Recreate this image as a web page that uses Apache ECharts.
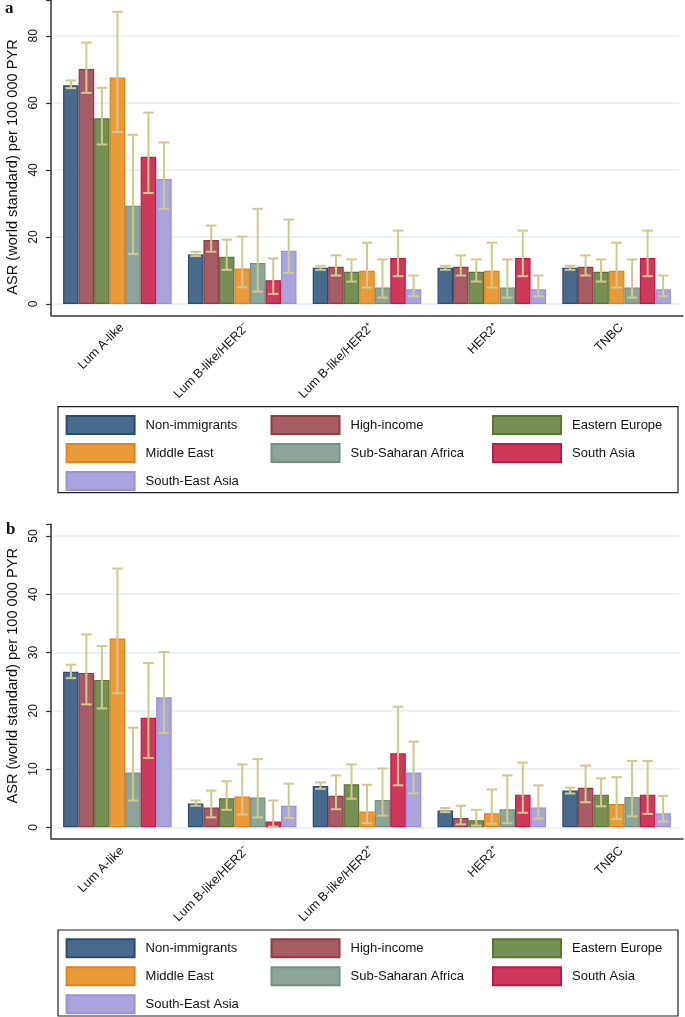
<!DOCTYPE html>
<html>
<head>
<meta charset="utf-8">
<script src="https://cdn.jsdelivr.net/npm/echarts@6/dist/echarts.min.js"></script>
<style>
html,body{margin:0;padding:0;background:#fff;}
#chart{width:685px;height:1017px;}
</style>
</head>
<body>
<div id="chart"></div>
<script>
// ---------- data ----------
const categories = ['Lum A-like', 'Lum B-like/HER2\u207B', 'Lum B-like/HER2\u207A', 'HER2\u207A', 'TNBC'];
const groups = ['Non-immigrants', 'High-income', 'Eastern Europe', 'Middle East', 'Sub-Saharan Africa', 'South Asia', 'South-East Asia'];

// panel a: ASR per group (rows) x subtype (columns)
const aAsr = [
  [65.3, 14.8, 10.8, 10.8, 10.8],
  [70.1, 19.1, 11.1, 11.1, 11.1],
  [55.4, 14.1, 9.6, 9.6, 9.6],
  [67.6, 10.6, 9.9, 9.9, 9.9],
  [29.3, 12.2, 4.9, 4.9, 4.9],
  [43.9, 7.1, 13.7, 13.7, 13.7],
  [37.3, 15.9, 4.4, 4.4, 4.4]
];
const aLow = [
  [64.4, 14.3, 10.2, 10.2, 10.2],
  [63.0, 15.6, 8.5, 8.5, 8.5],
  [47.6, 10.2, 6.7, 6.7, 6.7],
  [51.3, 5.0, 4.9, 4.9, 4.9],
  [14.9, 3.7, 1.9, 1.9, 1.9],
  [33.1, 3.0, 8.3, 8.3, 8.3],
  [28.4, 9.3, 2.3, 2.3, 2.3]
];
const aHigh = [
  [66.7, 15.6, 11.4, 11.4, 11.4],
  [78.0, 23.4, 14.5, 14.5, 14.5],
  [64.5, 19.2, 13.3, 13.3, 13.3],
  [87.2, 20.1, 18.3, 18.3, 18.3],
  [50.5, 28.4, 13.3, 13.3, 13.3],
  [57.1, 13.6, 21.9, 21.9, 21.9],
  [48.2, 25.2, 8.5, 8.5, 8.5]
];

// panel b
const bAsr = [
  [26.7, 4.1, 7.1, 2.9, 6.3],
  [26.5, 3.4, 5.4, 1.6, 6.8],
  [25.3, 5.0, 7.4, 1.2, 5.6],
  [32.4, 5.3, 2.7, 2.4, 4.0],
  [9.4, 5.1, 4.7, 3.1, 5.2],
  [18.8, 1.0, 12.7, 5.6, 5.6],
  [22.3, 3.7, 9.4, 3.4, 2.4]
];
const bLow = [
  [25.6, 3.7, 6.6, 2.6, 5.8],
  [21.1, 1.7, 3.1, 0.5, 4.3],
  [20.4, 3.0, 4.9, 0.3, 3.6],
  [23.0, 2.2, 0.7, 0.6, 1.4],
  [4.6, 1.7, 2.0, 0.7, 1.9],
  [11.9, 0.1, 7.2, 2.5, 2.3],
  [16.2, 1.6, 5.8, 1.5, 1.0]
];
const bHigh = [
  [27.9, 4.6, 7.7, 3.3, 6.8],
  [33.1, 6.3, 8.9, 3.7, 10.6],
  [31.1, 7.9, 10.8, 3.0, 8.4],
  [44.4, 10.8, 7.3, 6.5, 8.6],
  [17.1, 11.7, 10.1, 8.9, 11.4],
  [28.2, 4.6, 20.7, 11.1, 11.4],
  [30.1, 7.5, 14.7, 7.2, 5.4]
];

// ---------- styles ----------
const fills   = ['#486a8c', '#a65c62', '#768f55', '#eb9a38', '#8ba59a', '#cf375b', '#a9a4dc'];
const borders = ['#2c4c70', '#8e3c46', '#5a7432', '#e2821e', '#74917f', '#bf184b', '#9a91d6'];
const errColor = '#d1c88d';
const axisColor = '#333';
const font = 'Liberation Sans, Arial, sans-serif';
const GAP = 0.13;

const chart = echarts.init(document.getElementById('chart'), null, {renderer: 'canvas'});

function errRender(params, api) {
  const cat = api.value(0), s = api.value(1), lo = api.value(2), hi = api.value(3);
  const band = api.size([1, 0])[0];
  const gw = band * (1 - GAP);
  const bw = gw / groups.length;
  const x = api.coord([cat, 0])[0] - gw / 2 + (s + 0.5) * bw;
  const yLo = api.coord([cat, lo])[1];
  const yHi = api.coord([cat, hi])[1];
  const cap = bw * 0.34;
  const st = {stroke: errColor, lineWidth: 2};
  return {
    type: 'group',
    children: [
      {type: 'line', shape: {x1: x, y1: yLo, x2: x, y2: yHi}, style: st},
      {type: 'line', shape: {x1: x - cap, y1: yHi, x2: x + cap, y2: yHi}, style: st},
      {type: 'line', shape: {x1: x - cap, y1: yLo, x2: x + cap, y2: yLo}, style: st}
    ]
  };
}

function errData(low, high) {
  const d = [];
  for (let s = 0; s < groups.length; s++) {
    for (let c = 0; c < categories.length; c++) d.push([c, s, low[s][c], high[s][c]]);
  }
  return d;
}

function xAxisCfg(gi) {
  return {
    type: 'category', gridIndex: gi, data: categories, offset: 11,
    axisLine: {show: false},
    axisTick: {show: false},
    axisLabel: {rotate: 45, interval: 0, margin: 6, fontSize: 12.5, color: '#111', fontFamily: font,
      verticalAlign: 'top'},
    splitLine: {show: false}
  };
}
function yAxisCfg(gi, max, interval, namePad) {
  return {
    type: 'value', gridIndex: gi, min: 0, max: max, interval: interval, offset: 4,
    name: 'ASR (world standard) per 100 000 PYR', nameLocation: 'middle', nameGap: 29.5,
    nameTextStyle: {fontSize: 14.6, color: '#111', fontFamily: font, padding: namePad},
    axisLine: {show: false},
    axisTick: {show: true, length: 5, lineStyle: {color: axisColor, width: 1.2}},
    axisLabel: {rotate: 90, margin: 11, fontSize: 12, color: '#111', fontFamily: font,
      formatter: v => (Math.abs(v / interval - Math.round(v / interval)) < 1e-6 ? String(v) : '')},
    splitLine: {show: true, showMaxLine: false, lineStyle: {color: '#e4ecf1', width: 1.5}}
  };
}
// frame axes: plain axis lines forming the L-shaped plot border
function frameX(gi) {
  return {type: 'value', gridIndex: gi, min: 0, max: 1, axisLine: {show: true, onZero: false, lineStyle: {color: axisColor, width: 1.5}},
    axisTick: {show: false}, axisLabel: {show: false}, splitLine: {show: false}};
}
function frameY(gi) {
  return {type: 'value', gridIndex: gi, min: 0, max: 1, axisLine: {show: true, onZero: false, lineStyle: {color: axisColor, width: 1.5}},
    axisTick: {show: false}, axisLabel: {show: false}, splitLine: {show: false}};
}

const series = [];
[[aAsr, 0], [bAsr, 1]].forEach(([vals, gi]) => {
  groups.forEach((g, s) => {
    series.push({
      type: 'bar', name: g, xAxisIndex: gi, yAxisIndex: gi,
      data: vals[s], barGap: '0%', barCategoryGap: (GAP * 100) + '%',
      itemStyle: {color: fills[s], borderColor: borders[s], borderWidth: 1.2},
      emphasis: {disabled: true}
    });
  });
});
series.push({type: 'custom', name: 'ci_a', xAxisIndex: 0, yAxisIndex: 0, renderItem: errRender,
  data: errData(aLow, aHigh), encode: {x: 0, y: [2, 3]}, z: 5, silent: true});
series.push({type: 'custom', name: 'ci_b', xAxisIndex: 1, yAxisIndex: 1, renderItem: errRender,
  data: errData(bLow, bHigh), encode: {x: 0, y: [2, 3]}, z: 5, silent: true});
series.push({type: 'line', name: 'frame_a', xAxisIndex: 2, yAxisIndex: 2, data: [], silent: true});
series.push({type: 'line', name: 'frame_b', xAxisIndex: 3, yAxisIndex: 3, data: [], silent: true});

const legendCols = [
  ['Non-immigrants', 'Middle East', 'South-East Asia'],
  ['High-income', 'Sub-Saharan Africa'],
  ['Eastern Europe', 'South Asia']
];
const legendLeft = [65.6, 270.5, 492];
const legendTops = [415, 938.3];
const legends = [];
legendTops.forEach(t => {
  legendCols.forEach((col, i) => {
    legends.push({
      orient: 'vertical', left: legendLeft[i], top: t, data: col, icon: 'rect',
      itemWidth: 68, itemHeight: 18, itemGap: 8, padding: 0, selectedMode: false,
      textStyle: {fontSize: 13, color: '#111', fontFamily: font, padding: [0, 0, 0, 6]}
    });
  });
});

const gridBase = {outerBoundsMode: 'none', containLabel: false};
chart.setOption({
  animation: false,
  backgroundColor: '#fff',
  title: [
    {text: 'a', left: 5, top: 0, padding: 0, textStyle: {fontFamily: 'Liberation Serif, serif', fontWeight: 'bold', fontSize: 17, color: '#111'}},
    {text: 'b', left: 6, top: 521, padding: 0, textStyle: {fontFamily: 'Liberation Serif, serif', fontWeight: 'bold', fontSize: 17, color: '#111'}}
  ],
  grid: [
    Object.assign({left: 55, width: 624, top: 0, height: 304}, gridBase),
    Object.assign({left: 55, width: 624, top: 524.3, height: 303}, gridBase),
    Object.assign({left: 51, width: 632, top: 0, height: 315.3}, gridBase),
    Object.assign({left: 51, width: 632, top: 524.3, height: 314.3}, gridBase)
  ],
  xAxis: [xAxisCfg(0), xAxisCfg(1), frameX(2), frameX(3)],
  yAxis: [yAxisCfg(0, 90.7, 20, [0, 30, 0, 0]), yAxisCfg(1, 52, 10, [0, 0, 0, 0]), frameY(2), frameY(3)],
  legend: legends,
  graphic: [
    {type: 'rect', shape: {x: 58, y: 406.7, width: 620, height: 86}, style: {fill: 'none', stroke: '#222', lineWidth: 1.2}, silent: true},
    {type: 'rect', shape: {x: 58, y: 930, width: 620, height: 86}, style: {fill: 'none', stroke: '#222', lineWidth: 1.2}, silent: true}
  ],
  series: series
});
</script>
</body>
</html>
